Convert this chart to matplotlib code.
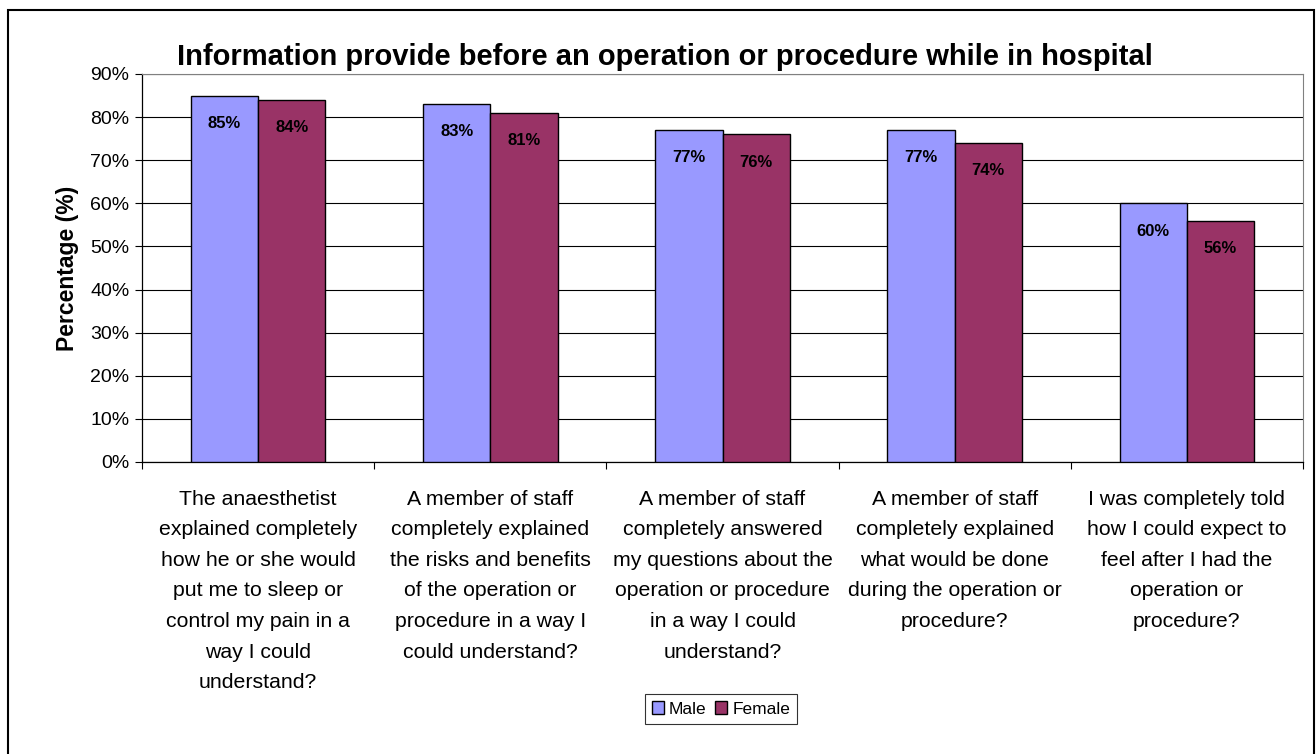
import numpy as np
import matplotlib
matplotlib.use("Agg")
from matplotlib import pyplot as plt
from matplotlib.patches import Rectangle

plt.rcParams['font.family'] = ['Liberation Sans', 'DejaVu Sans']

categories = [
    "The anaesthetist\nexplained completely\nhow he or she would\nput me to sleep or\ncontrol my pain in a\nway I could\nunderstand?",
    "A member of staff\ncompletely explained\nthe risks and benefits\nof the operation or\nprocedure in a way I\ncould understand?",
    "A member of staff\ncompletely answered\nmy questions about the\noperation or procedure\nin a way I could\nunderstand?",
    "A member of staff\ncompletely explained\nwhat would be done\nduring the operation or\nprocedure?",
    "I was completely told\nhow I could expect to\nfeel after I had the\noperation or\nprocedure?",
]
male = [85, 83, 77, 77, 60]
female = [84, 81, 76, 74, 56]
series_names = ["Male", "Female"]
title = "Information provide before an operation or procedure while in hospital"
y_ticks = list(range(0, 91, 10))

W, H = 1316, 754
fig = plt.figure(figsize=(W / 100, H / 100), dpi=100)
ax = fig.add_axes([142 / W, 1 - 462 / H, 1161 / W, 388 / H])

x = np.arange(len(categories))
bw = 0.29
b1 = ax.bar(x - bw / 2, male, bw, color='#9999FF', edgecolor='black', linewidth=1, label=series_names[0], zorder=3)
b2 = ax.bar(x + bw / 2, female, bw, color='#993366', edgecolor='black', linewidth=1, label=series_names[1], zorder=3)

for bars in (b1, b2):
    for r in bars:
        ax.annotate(f"{r.get_height():.0f}%", (r.get_x() + r.get_width() / 2, r.get_height()),
                    xytext=(0, -20), textcoords='offset points', ha='center', va='center',
                    fontsize=12, fontweight='bold', zorder=4)

ax.set_xlim(-0.5, len(categories) - 0.5)
ax.set_ylim(0, 90)
ax.set_yticks(y_ticks)
ax.set_yticklabels([f"{v}%" for v in y_ticks], fontsize=14)
ax.yaxis.grid(True, color='black', linewidth=0.8)
ax.set_axisbelow(True)
ax.tick_params(axis='y', direction='out', length=5, width=0.8, pad=4)

ax.set_xticks(np.arange(-0.5, len(categories), 1))
ax.set_xticklabels([])
ax.tick_params(axis='x', which='major', direction='out', length=5, width=0.8)
ax.set_xticks(x, minor=True)
ax.set_xticklabels(categories, minor=True, fontsize=15.3, linespacing=1.77)
ax.tick_params(axis='x', which='minor', length=0, pad=20)

for s in ('top', 'right'):
    ax.spines[s].set_color('#808080')
for s in ('left', 'bottom'):
    ax.spines[s].set_color('black')
    ax.spines[s].set_linewidth(0.9)

ax.set_ylabel("Percentage (%)", fontsize=16.5, fontweight='bold', labelpad=8)

fig.text(665 / W, 1 - 57 / H, title, ha='center', va='center', fontsize=21, fontweight='bold')

leg = fig.legend(handles=[b1, b2], loc='center', bbox_to_anchor=(721 / W, 1 - 709 / H), ncol=2,
                 fontsize=12.5, frameon=True, fancybox=False, edgecolor='black',
                 handlelength=0.7, handleheight=0.7, handletextpad=0.3, columnspacing=0.5,
                 borderpad=0.4)
leg.get_frame().set_linewidth(0.8)

fig.patches.append(Rectangle((8 / W, -0.05), 1306 / W, 1 - 10 / H + 0.05, transform=fig.transFigure,
                             fill=False, edgecolor='black', linewidth=1.5))

fig.savefig("out.png", dpi=100)
